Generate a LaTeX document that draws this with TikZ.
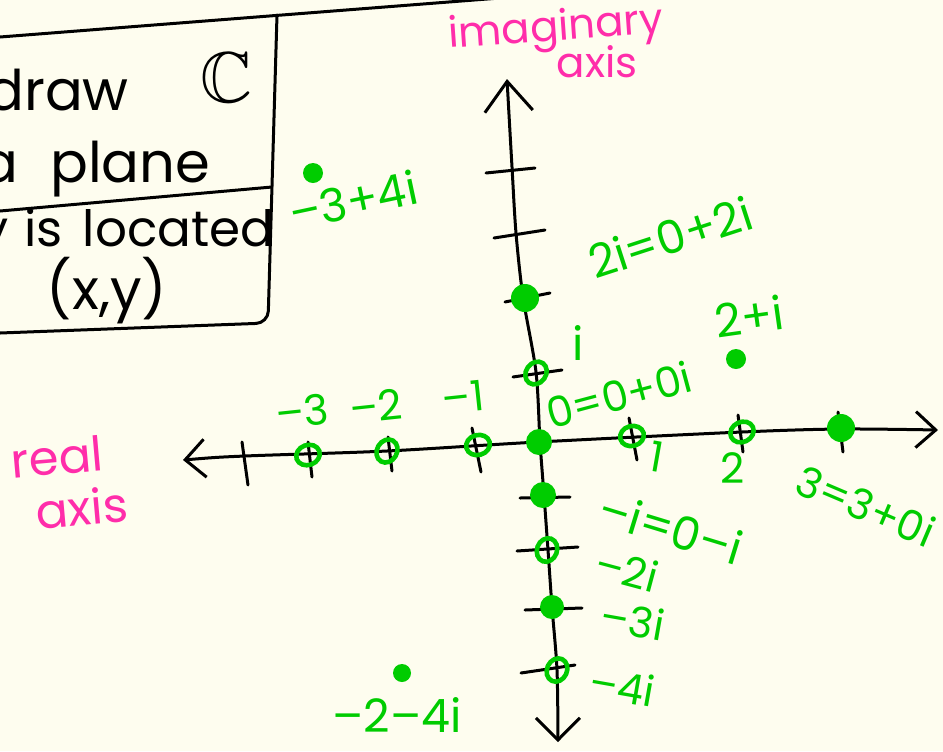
\documentclass[tikz,border=0pt]{standalone}
\usepackage{amssymb}
\usepackage{fontspec}
\setmainfont{Poppins}
\usetikzlibrary{arrows.meta,shapes.geometric}
\definecolor{Paper}{HTML}{FEFDEF}
\definecolor{Green}{HTML}{00CC00}
\definecolor{Pink}{HTML}{FF2DAA}

\begin{document}
\begin{tikzpicture}[x=0.5pt,y=-0.5pt,
  pen/.style={line width=1.5pt,line cap=round,line join=round},
  lab/.style={text=Green,font=\fontsize{21}{24}\selectfont,inner sep=0pt},
  axlab/.style={text=Pink,font=\fontsize{21}{24}\selectfont,inner sep=0pt},
  boxtext/.style={font=\fontsize{28}{32}\selectfont,inner sep=0pt},
  ring/.style={ellipse,draw=Green,line width=2.3pt,minimum width=12pt,minimum height=10pt,inner sep=0pt},
  blob/.style={circle,fill=Green,inner sep=0pt,minimum size=13pt}]
  \fill[Paper] (0,0) rectangle (943,751);
  \useasboundingbox (0,0) rectangle (943,751);
  % the box
  \draw[pen] (0,37) -- (500,-2);
  \draw[pen,rounded corners=6pt] (277,15) -- (268,323) -- (0,333);
  \draw[pen] (0,211) -- (272,187);
  \node[boxtext,anchor=base west] (tdraw) at (-14,110) {draw};
  \node[font=\fontsize{36}{38}\selectfont] (tC) at (226,78) {$\mathbb{C}$};
  \node[boxtext,anchor=base west] (tplane) at (-20,182) {a\hspace{16pt}plane};
  \node[boxtext,anchor=base west,font=\fontsize{25}{28}\selectfont] (tloc) at (-20,246) {y\hspace{8pt}is\hspace{10pt}located};
  \node[boxtext] (txy) at (107,291) {(x,y)};
  % axes
  \coordinate (W) at (183,460);
  \coordinate (E) at (938,430);
  \coordinate (N) at (507,79);
  \coordinate (S) at (558,742);
  \draw[pen,{Straight Barb[length=10pt,width=19pt]}-{Straight Barb[length=10pt,width=18pt]}]
    plot[smooth,tension=0.5] coordinates {(W) (245,456) (387,451) (538,442) (742,432) (841,429) (E)};
  \draw[pen,{Straight Barb[length=15pt,width=24pt]}-{Straight Barb[length=11pt,width=22pt]}]
    plot[smooth,tension=0.5] coordinates {(N) (512,167) (516,233) (523,297) (536,372) (540,442) (544,495) (548,550) (552,607) (557,670) (S)};
  % ticks
  \foreach \a/\b/\c/\d in {242/442/248/485, 308/442/312/477, 388/437/392/471, 472/428/481/472,
      629/418/637/460, 738/415/743/452, 838/412/843/452,
      486/173/535/168, 494/238/545/230, 505/302/550/293, 513/377/562/370,
      520/498/570/497, 517/551/578/547, 525/610/582/608, 521/673/575/665}
    \draw[pen] (\a,\b) -- (\c,\d);
  % points
  \foreach \n/\x/\y/\r in {m3/308/455/20, m2/387/451/60, m1/478/445/15, p1/632/436/15,
      p2/742/432/25, pi/536/373/55, m2i/547/550/70, m4i/557/670/65}
    \node[ring,rotate=\r] (\n) at (\x,\y) {};
  \foreach \n/\x/\y/\s in {o/539/442/13pt, p2i/525/298/14pt, p3/841/428/14pt,
      mi/543/495/13pt, m3i/552/607/12pt, z1/313/173/10pt, z2/736/359/10pt, z3/402/673/9pt}
    \node[blob,minimum size=\s] (\n) at (\x,\y) {};
  % labels
  \node[lab,rotate=12,font=\fontsize{23}{26}\selectfont] (lz1) at (353,200) {–3+4i};
  \node[lab,rotate=18,font=\fontsize{23}{26}\selectfont] (lp2i) at (670,237) {2i=0+2i};
  \node[lab,font=\fontsize{23}{26}\selectfont] (lpi) at (578,343) {i};
  \node[lab,rotate=8,font=\fontsize{23}{26}\selectfont] (lz2) at (749,316) {2+i};
  \node[lab,rotate=15] (lo) at (619,395) {0=0+0i};
  \node[lab,rotate=6] (lm3) at (302,411) {–3};
  \node[lab,rotate=6] (lm2) at (376,406) {–2};
  \node[lab,rotate=6] (lm1) at (463,397) {–1};
  \node[lab,rotate=-10] (lp1) at (657,457) {1};
  \node[lab] (lp2) at (733,468) {2};
  \node[lab,rotate=-23] (lp3) at (866,506) {3=3+0i};
  \node[lab,rotate=-17,font=\fontsize{23}{26}\selectfont] (lmi) at (671,528) {–i=0–i};
  \node[lab,rotate=-15] (lm2i) at (627,570) {–2i};
  \node[lab,rotate=-10] (lm3i) at (633,620) {–3i};
  \node[lab,rotate=-10] (lm4i) at (622,686) {–4i};
  \node[lab,font=\fontsize{23}{26}\selectfont] (lz3) at (397,715) {–2–4i};
  \node[axlab,rotate=4] (lim) at (556,30) {imaginary};
  \node[axlab] (limb) at (597,62) {axis};
  \node[axlab,rotate=5,font=\fontsize{24}{26}\selectfont] (lre) at (57,457) {real};
  \node[axlab,rotate=5,font=\fontsize{24}{26}\selectfont] (lreb) at (82,507) {axis};
\end{tikzpicture}
\end{document}
